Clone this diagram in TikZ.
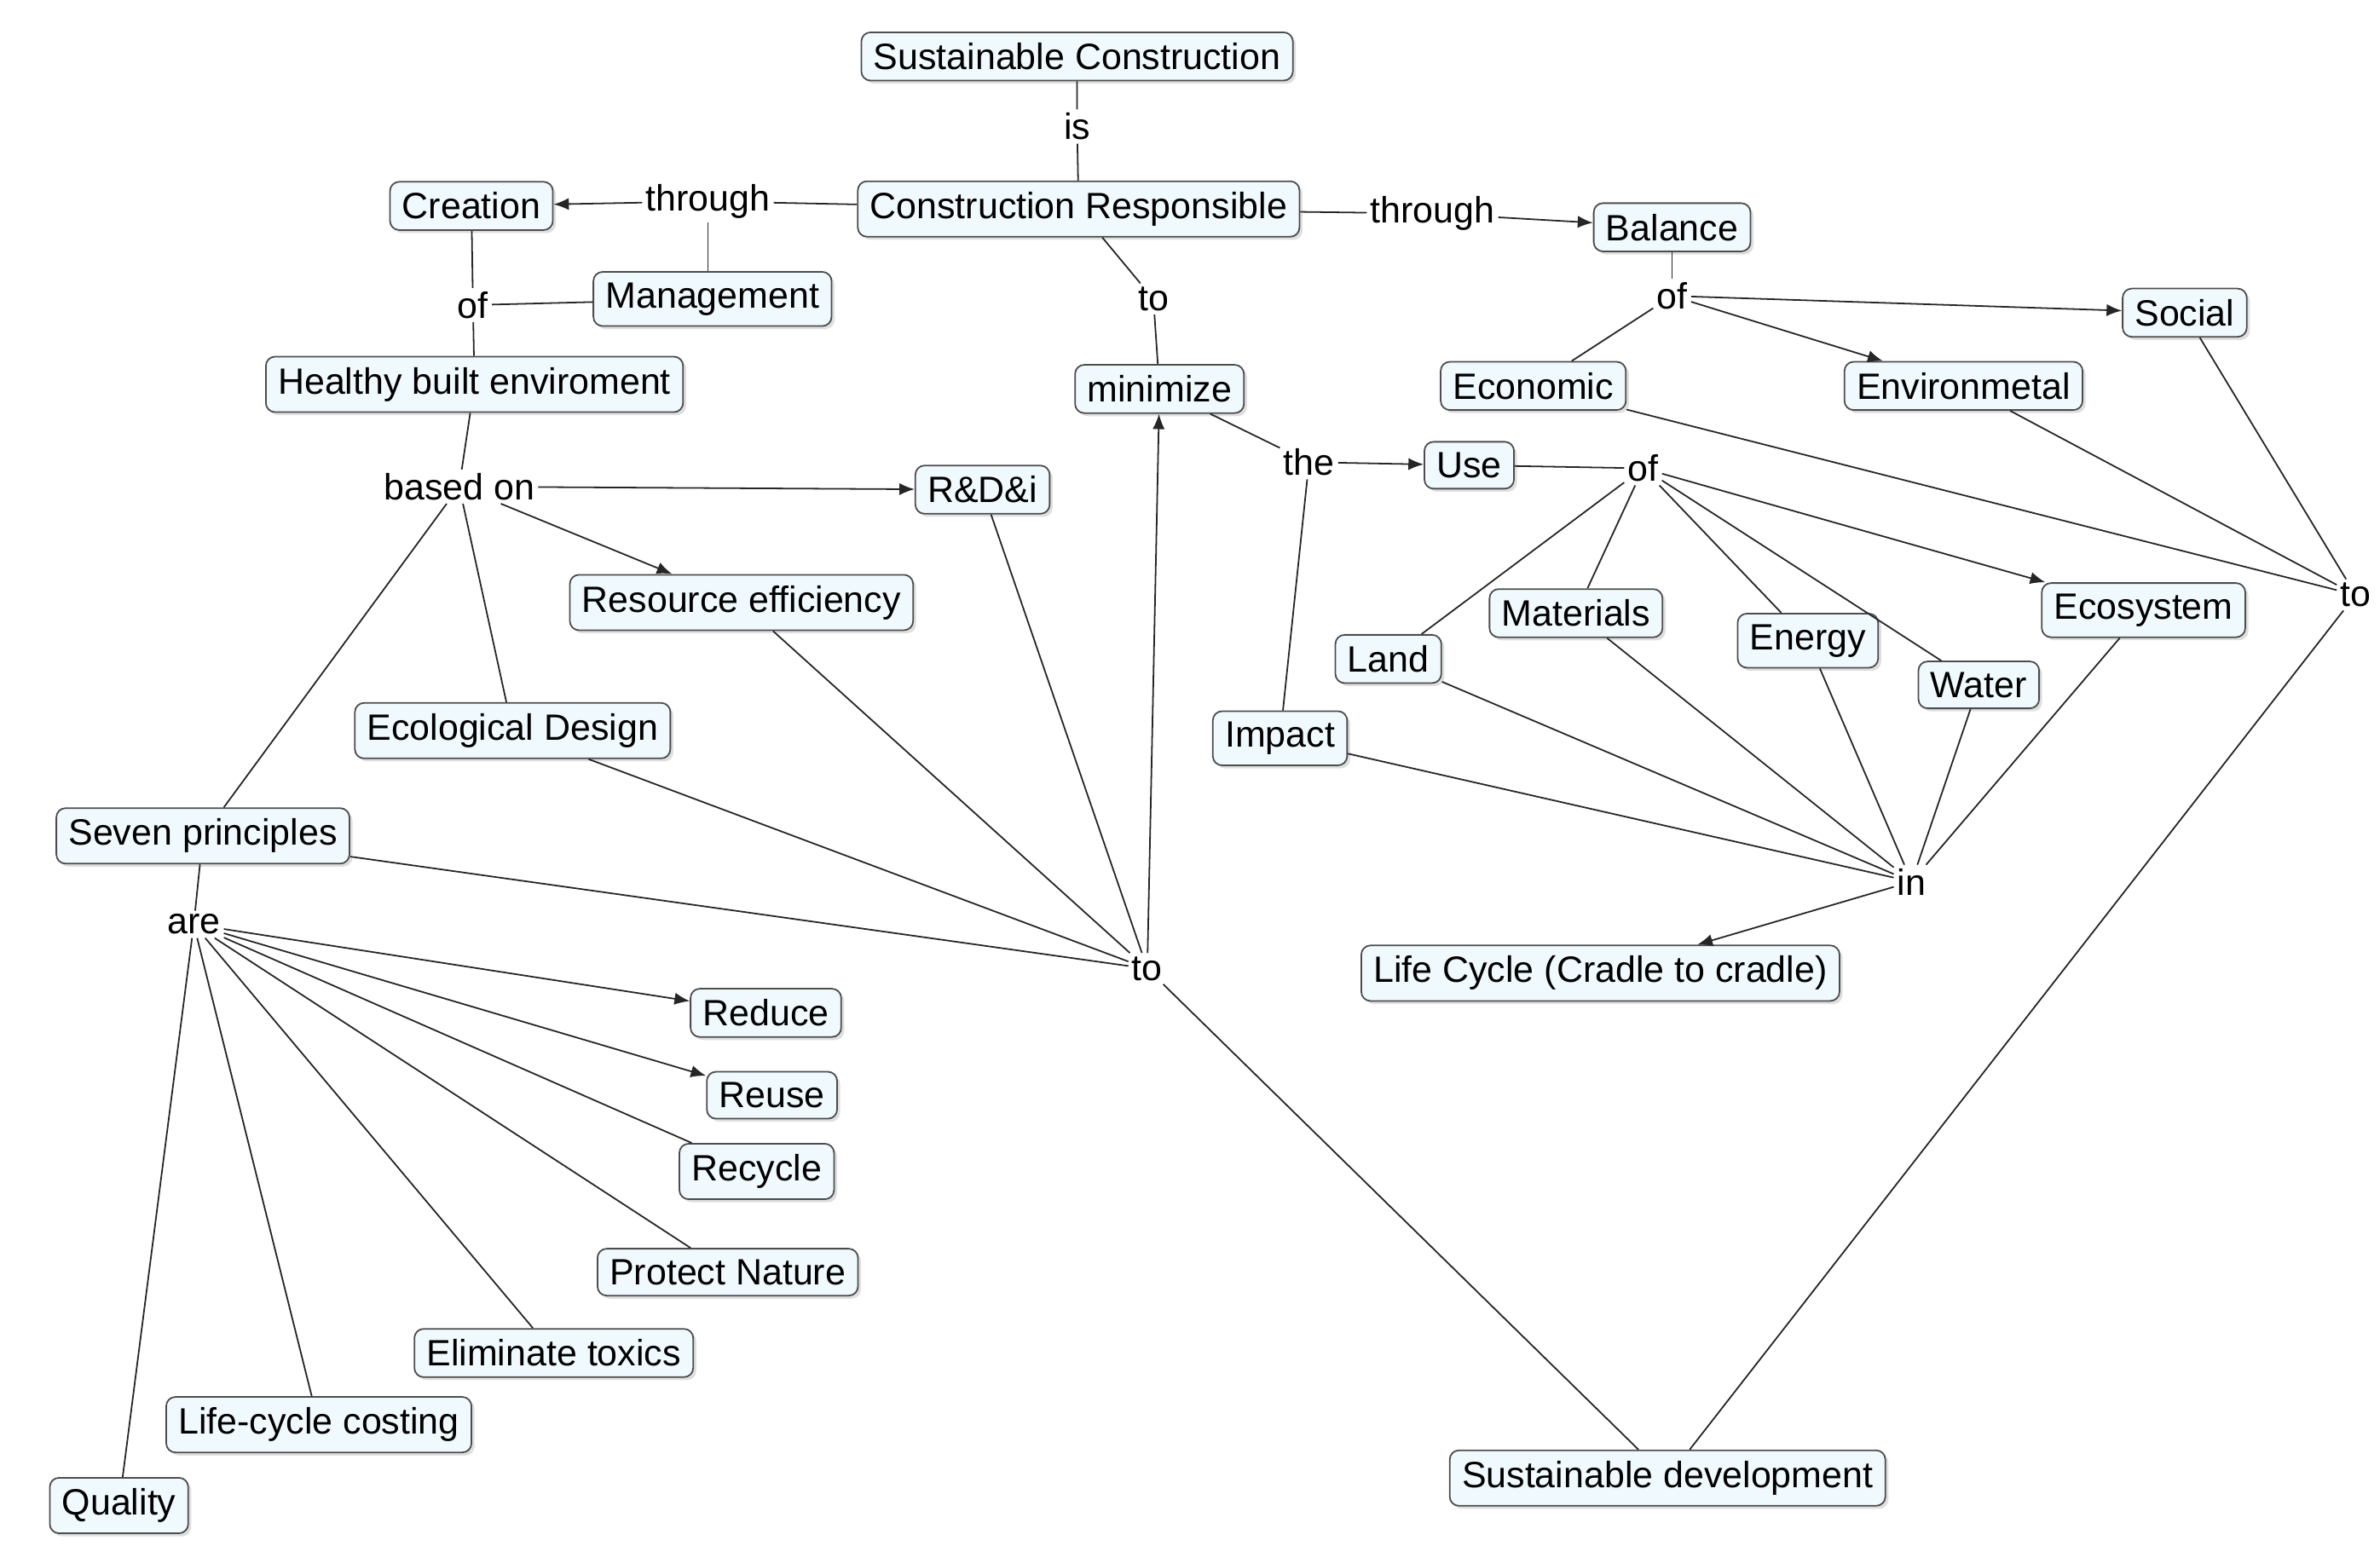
\documentclass[tikz,border=0pt]{standalone}
\usepackage{fontspec}
\setmainfont{Liberation Sans}
\usetikzlibrary{arrows.meta,shadows}
\begin{document}
\begin{tikzpicture}[x=0.5pt,y=-0.5pt,
 box/.style={draw=black!70,fill=cyan!6!white,rounded corners=3pt,inner xsep=4pt,inner ysep=3.5pt,font=\fontsize{12}{14}\selectfont,line width=0.5pt,drop shadow={shadow xshift=1pt,shadow yshift=-1pt,fill=black!25}},
 lab/.style={inner sep=1pt,font=\fontsize{12}{14}\selectfont},
 ln/.style={draw=black!85,line width=0.5pt},
 ar/.style={ln,-{Latex[length=5pt,width=4pt]}}]
\useasboundingbox (0,0) rectangle (1560,1017);
\node[box] (SC) at (706,37) {Sustainable Construction};
\node[lab] (is) at (706,83) {is};
\node[box] (CR) at (707,137) {Construction Responsible};
\node[lab] (th1) at (464,132) {through};
\node[box] (Cr) at (309,135) {Creation};
\node[box] (Mg) at (467,196) {Management};
\node[lab] (of1) at (310,200) {of};
\node[box] (HBE) at (311,252) {Healthy built enviroment};
\node[lab] (th2) at (939,140) {through};
\node[box] (Ba) at (1096,149) {Balance};
\node[lab] (to1) at (756,196) {to};
\node[box] (mi) at (760,255) {minimize};
\node[lab] (of2) at (1096,194) {of};
\node[box] (So) at (1432,205) {Social};
\node[box] (Ec) at (1005,253) {Economic};
\node[box] (En) at (1287,253) {Environmetal};
\node[lab] (bo) at (301,319) {based on};
\node[box] (RD) at (644,321) {R\&D\&i};
\node[box] (RE) at (486,395) {Resource efficiency};
\node[lab] (the) at (858,303) {the};
\node[box] (Us) at (963,305) {Use};
\node[lab] (of3) at (1077,307) {of};
\node[box] (ED) at (336,479) {Ecological Design};
\node[box] (SP) at (133,548) {Seven principles};
\node[box] (Ma) at (1033,402) {Materials};
\node[box] (La) at (910,432) {Land};
\node[box] (Eg) at (1185,420) {Energy};
\node[box] (Wa) at (1297,449) {Water};
\node[box] (Eo) at (1405,400) {Ecosystem};
\node[box] (Im) at (839,484) {Impact};
\node[lab] (to2) at (1544,390) {to};
\node[lab] (in) at (1253,578) {in};
\node[lab] (are) at (127,606) {are};
\node[lab] (to3) at (752,635) {to};
\node[box] (LC) at (1049,638) {Life Cycle (Cradle to cradle)};
\node[box] (Rd) at (502,664) {Reduce};
\node[box] (Ru) at (506,718) {Reuse};
\node[box] (Rc) at (496,768) {Recycle};
\node[box] (PN) at (477,834) {Protect Nature};
\node[box] (ET) at (363,887) {Eliminate toxics};
\node[box] (LCC) at (209,934) {Life-cycle costing};
\node[box] (Q) at (78,987) {Quality};
\node[box] (SD) at (1093,969) {Sustainable development};

\draw[ln] (SC)--(is) (is)--(CR);
\draw[ln] (CR)--(th1); \draw[ar] (th1)--(Cr);
\draw[ln] (th1)--(th1|-Mg.north);
\draw[ln] (Mg)--(of1) (Cr)--(of1) (of1)--(HBE);
\draw[ln] (CR)--(th2); \draw[ar] (th2)--(Ba);
\draw[ln] (CR)--(to1) (to1)--(mi);
\draw[ln] (Ba)--(of2); \draw[ar] (of2)--(So); \draw[ar] (of2)--(En); \draw[ln] (of2)--(Ec);
\draw[ln] (Ec)--(to2) (En)--(to2) (So)--(to2) (to2)--(SD);
\draw[ln] (HBE)--(bo); \draw[ar] (bo)--(RD); \draw[ar] (bo)--(RE); \draw[ln] (bo)--(ED) (bo)--(SP);
\draw[ln] (RD)--(to3) (RE)--(to3) (ED)--(to3) (SP)--(to3) (to3)--(SD);
\draw[ar] (to3)--(mi);
\draw[ln] (mi)--(the) (Im)--(the); \draw[ar] (the)--(Us);
\draw[ln] (Us)--(of3) (of3)--(La) (of3)--(Ma) (of3)--(Eg) (of3)--(Wa); \draw[ar] (of3)--(Eo);
\draw[ln] (La)--(in) (Ma)--(in) (Eg)--(in) (Wa)--(in) (Eo)--(in) (Im)--(in);
\draw[ar] (in)--(LC);
\draw[ln] (SP)--(are); \draw[ar] (are)--(Rd); \draw[ar] (are)--(Ru);
\draw[ln] (are)--(Rc) (are)--(PN) (are)--(ET) (are)--(LCC) (are)--(Q);
\end{tikzpicture}
\end{document}
